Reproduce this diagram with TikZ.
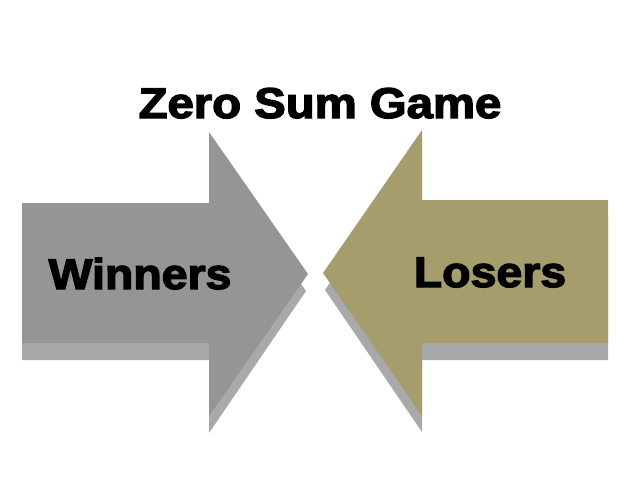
\documentclass[tikz,border=0pt]{standalone}
\usepackage{fontspec}
\newfontfamily\heavy{Liberation Sans Bold}[FakeBold=3]
\definecolor{wingray}{HTML}{959595}
\definecolor{losekhaki}{HTML}{A69D6D}
\definecolor{shadowgray}{HTML}{A9A9A9}
\tikzset{
  label text/.style={inner sep=0pt, anchor=base, font=\heavy\fontsize{43}{48}\selectfont, text=black},
}
\begin{document}
\begin{tikzpicture}[x=1pt,y=-1pt]
\useasboundingbox (0,0) rectangle (634,500);
\fill[white] (0,0) rectangle (634,500);
% shadows
\fill[shadowgray] (22,220) -- (209,220) -- (209,149) -- (306,291) -- (209,433) -- (209,360) -- (22,360) -- cycle;
\fill[shadowgray] (608,217) -- (422,217) -- (422,147) -- (325,290) -- (422,432) -- (422,360) -- (608,360) -- cycle;
% arrows
\fill[wingray] (22,203) -- (209,203) -- (209,132) -- (308,274) -- (209,416) -- (209,343) -- (22,343) -- cycle;
\fill[losekhaki] (608,200) -- (422,200) -- (422,130) -- (323,273) -- (422,416) -- (422,343) -- (608,343) -- cycle;
% texts
\node[label text] (title) at (320,118) {\scalebox{1.1}[1]{Zero Sum Game}};
\node[label text] (winners) at (140,289) {\scalebox{1.08}[1]{Winners}};
\node[label text] (losers) at (490,287) {\scalebox{1.08}[1]{Losers}};
\end{tikzpicture}
\end{document}
